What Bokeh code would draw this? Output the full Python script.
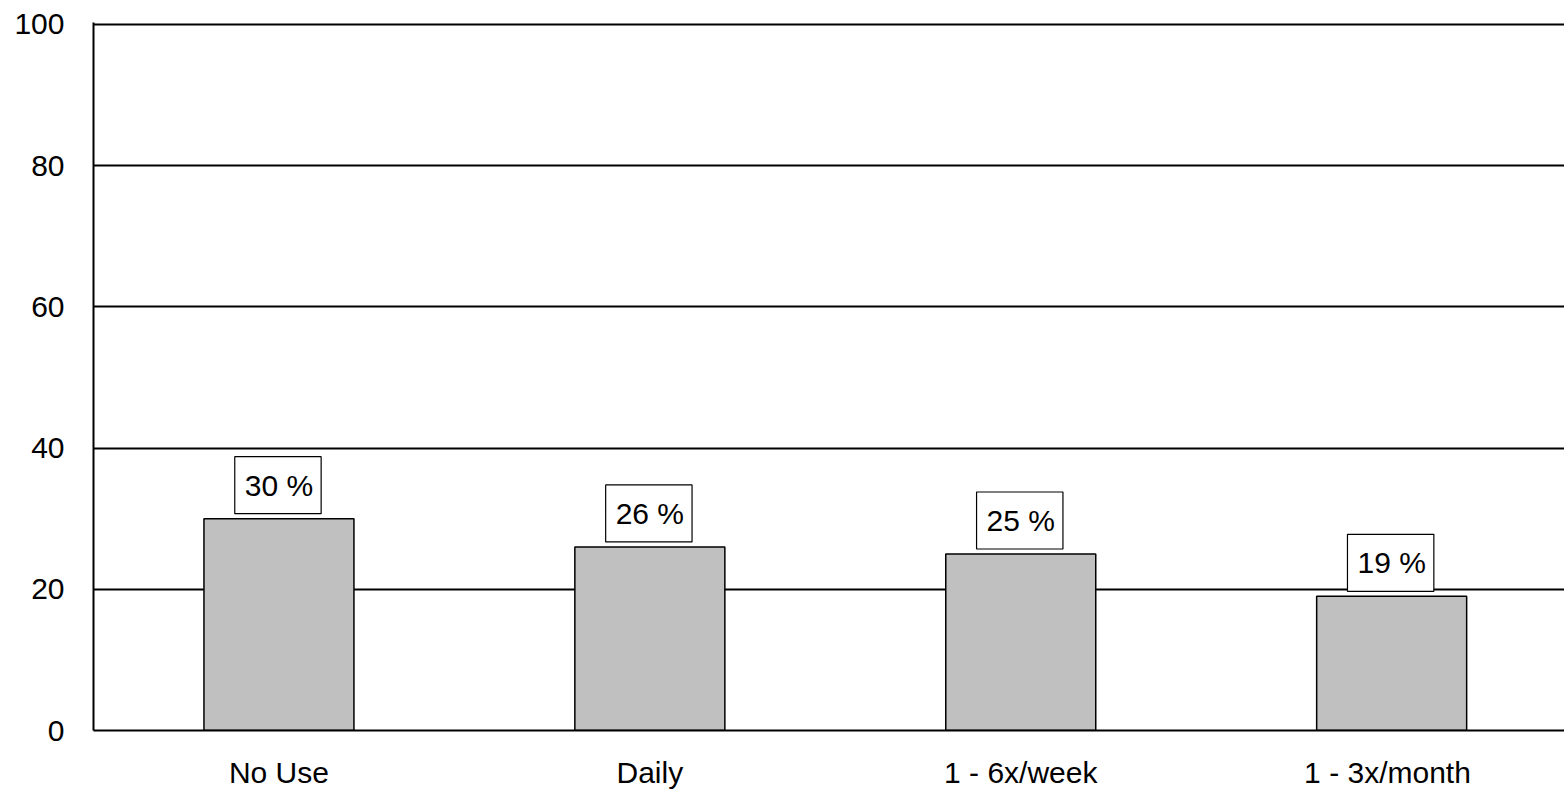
from bokeh.plotting import figure
from bokeh.models import Range1d, FixedTicker, Label
from bokeh.embed import file_html
from bokeh.resources import INLINE

categories = ["No Use", "Daily", "1 - 6x/week", "1 -  3x/month"]
values = [30, 26, 25, 19]
value_labels = ["30 %", "26 %", "25 %", "19 %"]
y_ticks = [0, 20, 40, 60, 80, 100]

FONT = "Liberation Sans"
FS = "30px"

xs = list(range(len(categories)))

p = figure(width=1564, height=791, output_backend="svg", toolbar_location=None,
           x_range=Range1d(-0.5, 3.466), y_range=Range1d(0, 100.283),
           min_border_left=93, min_border_right=0, min_border_top=22, min_border_bottom=61)
p.outline_line_color = None
p.background_fill_color = "white"
p.border_fill_color = "white"

p.xgrid.grid_line_color = None
p.ygrid.grid_line_color = "black"
p.ygrid.grid_line_width = 2

p.yaxis.ticker = FixedTicker(ticks=y_ticks)
p.xaxis.ticker = FixedTicker(ticks=xs)
p.xaxis.major_label_overrides = {i: c for i, c in zip(xs, categories)}

for ax in (p.xaxis[0], p.yaxis[0]):
    ax.axis_line_color = "black"
    ax.axis_line_width = 2
    ax.major_tick_line_color = None
    ax.minor_tick_line_color = None
    ax.major_tick_out = 0
    ax.major_tick_in = 0
    ax.major_label_text_font = FONT
    ax.major_label_text_font_size = FS
    ax.major_label_text_color = "black"

p.yaxis.major_label_standoff = 29
p.xaxis.major_label_standoff = 25

p.vbar(x=xs, top=values, bottom=0, width=0.4044,
       fill_color="#c0c0c0", line_color="black", line_width=1.5)

for x, v, t in zip(xs, values, value_labels):
    # padding order: (left, right, top, bottom)
    p.add_layout(Label(x=x, y=v, text=t, text_align="center", text_baseline="bottom",
                       x_offset=-1, y_offset=5, text_font=FONT, text_font_size=FS,
                       text_color="black",
                       background_fill_color="white", border_line_color="black",
                       border_line_width=1.2, padding=(10, 8, 12, 12)))

open("out.html", "w").write(file_html(p, INLINE))
